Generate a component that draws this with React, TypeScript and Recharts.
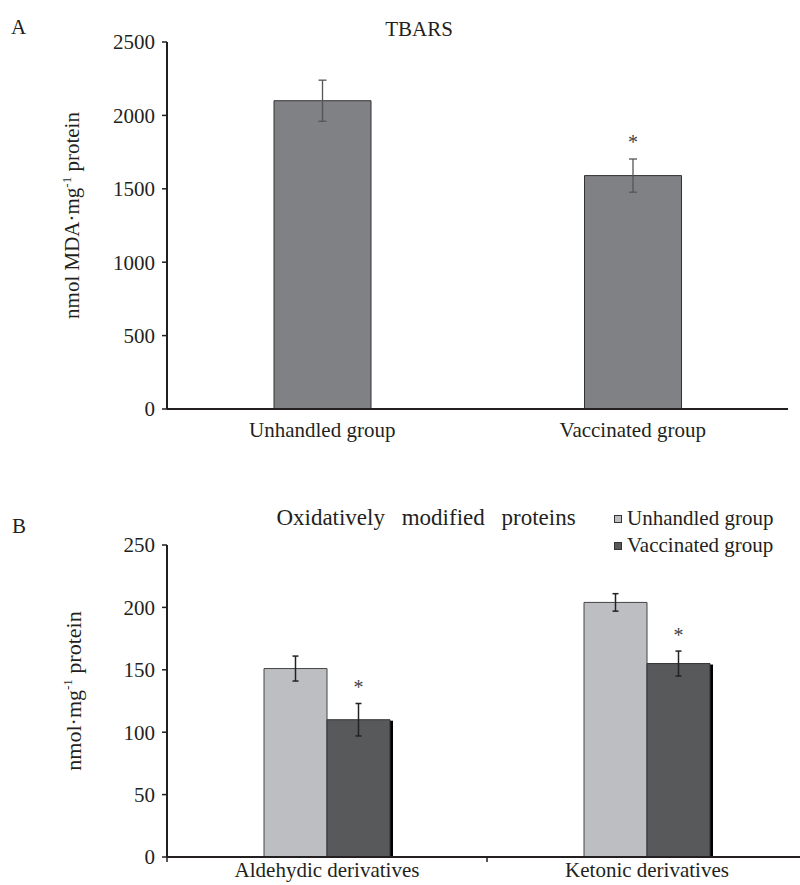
import React from 'react';
import {
  BarChart,
  Bar,
  XAxis,
  YAxis,
  ErrorBar,
  LabelList,
  Legend,
  Rectangle,
} from 'recharts';

// Panel A - TBARS
const tbarsGroups = ['Unhandled group', 'Vaccinated group'];
const tbarsValues = [2100, 1590];
const tbarsErrors = [140, 113];
const tbarsStars = [false, true];
const tbarsTicks = [0, 500, 1000, 1500, 2000, 2500];

// Panel B - oxidatively modified proteins
const derivCategories = ['Aldehydic derivatives', 'Ketonic derivatives'];
const unhandledValues = [151, 204];
const unhandledErrors = [10, 7];
const vaccinatedValues = [110, 155];
const vaccinatedErrors = [13, 10];
const derivTicks = [0, 50, 100, 150, 200, 250];

const serif = "'Liberation Serif', 'Times New Roman', serif";
const ink = '#231f20';

const tbarsData = tbarsGroups.map((group, i) => ({
  group,
  value: tbarsValues[i],
  err: tbarsErrors[i],
}));

const derivData = derivCategories.map((cat, i) => ({
  cat,
  unhandled: unhandledValues[i],
  unhandledErr: unhandledErrors[i],
  vaccinated: vaccinatedValues[i],
  vaccinatedErr: vaccinatedErrors[i],
}));

// rotated y title with a small superscript -1
const yTitle = (before: string, cx: number, size: number) => (props: any) => {
  const vb = props.viewBox || {};
  const cy = vb.y + vb.height / 2 - 10;
  return (
    <text
      x={cx}
      y={cy}
      transform={`rotate(-90, ${cx}, ${cy})`}
      textAnchor="middle"
      dominantBaseline="central"
      fontFamily={serif}
      fontSize={size}
      fill={ink}
    >
      {before}
      <tspan dy={-6} fontSize={13}>-1</tspan>
      <tspan dy={6}> protein</tspan>
    </text>
  );
};

// asterisk above the error bar, placed from the bar's own geometry
const starAbove = (errors: number[], show: boolean[], lift: number) => (props: any) => {
  const { x, y, width, height, value, index } = props;
  if (!show[index] || !value) return null;
  const errPx = (height * errors[index]) / value;
  return (
    <text
      x={x + width / 2}
      y={y - errPx - lift}
      textAnchor="middle"
      fontFamily={serif}
      fontSize={20}
      fill="#444"
    >
      *
    </text>
  );
};

// dark bar with the little black shadow on its right edge
const ShadowBar = (props: any) => {
  const { x, y, width, height } = props;
  return (
    <g>
      <rect x={x + width} y={y + 1} width={3} height={height - 1} fill="#000" />
      <Rectangle {...props} />
    </g>
  );
};

// category label plus the small tick marks on the category boundaries
const BoundaryTick = (props: any) => {
  const { x, y, payload, index, visibleTicksCount } = props;
  const half = payload.offset || 0;
  const axisY = y - 5;
  const isLast = index === (visibleTicksCount || 2) - 1;
  return (
    <g>
      <line x1={x - half} x2={x - half} y1={axisY} y2={axisY + 5} stroke={ink} strokeWidth={1.5} />
      {isLast && (
        <line x1={x + half} x2={x + half} y1={axisY} y2={axisY + 5} stroke={ink} strokeWidth={1.5} />
      )}
      <text x={x} y={y} dy="0.71em" textAnchor="middle" fontFamily={serif} fontSize={21} fill={ink}>
        {payload.value}
      </text>
    </g>
  );
};

const LegendBox = ({ payload }: any) => (
  <div style={{ fontFamily: serif, fontSize: 21, color: ink, lineHeight: '27px' }}>
    {(payload || []).map((p: any) => (
      <div key={p.value} style={{ display: 'flex', alignItems: 'center', whiteSpace: 'nowrap' }}>
        <span
          style={{
            display: 'inline-block',
            width: 6,
            height: 6,
            background: p.color,
            border: '1px solid #333',
            marginRight: 5,
          }}
        />
        {p.value}
      </div>
    ))}
  </div>
);

const textStyle: React.CSSProperties = {
  position: 'absolute',
  fontFamily: serif,
  color: ink,
  lineHeight: 1,
  whiteSpace: 'nowrap',
};

export default function App() {
  const tickFont = { fontSize: 21, fill: ink, fontFamily: serif };

  return (
    <div
      style={{
        position: 'absolute',
        left: 0,
        top: 0,
        width: 800,
        height: 885,
        overflow: 'hidden',
        background: '#fff',
      }}
    >
      <div style={{ ...textStyle, left: 11, top: 17, fontSize: 21 }}>A</div>
      <div style={{ ...textStyle, left: 419, top: 19, fontSize: 21, transform: 'translateX(-50%)' }}>
        TBARS
      </div>

      <div style={{ position: 'absolute', left: 0, top: 0 }}>
        <BarChart
          width={800}
          height={445}
          data={tbarsData}
          margin={{ top: 42, right: 12, left: 0, bottom: 0 }}
        >
          <XAxis
            dataKey="group"
            height={36}
            axisLine={{ stroke: ink, strokeWidth: 2 }}
            tickLine={false}
            tickSize={0}
            tickMargin={13}
            tick={tickFont}
          />
          <YAxis
            width={167}
            domain={[0, 2500]}
            ticks={tbarsTicks}
            axisLine={{ stroke: ink, strokeWidth: 2 }}
            tickLine={{ stroke: ink, strokeWidth: 1.5 }}
            tickSize={5}
            tickMargin={7}
            tick={tickFont}
            label={yTitle('nmol MDA·mg', 72, 21)}
          />
          <Bar
            dataKey="value"
            barSize={97}
            fill="#808184"
            stroke="#333"
            strokeWidth={1}
            isAnimationActive={false}
          >
            <ErrorBar dataKey="err" width={4} stroke="#555" strokeWidth={1.3} />
            <LabelList dataKey="value" content={starAbove(tbarsErrors, tbarsStars, 10)} />
          </Bar>
        </BarChart>
      </div>

      <div style={{ ...textStyle, left: 12, top: 516, fontSize: 21 }}>B</div>
      <div
        style={{
          ...textStyle,
          left: 426,
          top: 506,
          fontSize: 23,
          wordSpacing: 11,
          transform: 'translateX(-50%)',
        }}
      >
        Oxidatively modified proteins
      </div>

      <div style={{ position: 'absolute', left: 0, top: 490 }}>
        <BarChart
          width={812}
          height={395}
          data={derivData}
          margin={{ top: 55, right: 5, left: 0, bottom: 0 }}
          barGap={0}
        >
          <XAxis
            dataKey="cat"
            height={28}
            axisLine={{ stroke: ink, strokeWidth: 2 }}
            tickLine={false}
            tickSize={0}
            tickMargin={5}
            tick={<BoundaryTick />}
          />
          <YAxis
            width={167}
            domain={[0, 250]}
            ticks={derivTicks}
            axisLine={{ stroke: ink, strokeWidth: 2 }}
            tickLine={{ stroke: ink, strokeWidth: 1.5 }}
            tickSize={5}
            tickMargin={7}
            tick={tickFont}
            label={yTitle('nmol·mg', 73, 22)}
          />
          <Legend
            layout="vertical"
            align="center"
            verticalAlign="middle"
            content={LegendBox}
            wrapperStyle={{ left: 614, top: 15, width: 'auto' }}
          />
          <Bar
            dataKey="unhandled"
            name="Unhandled group"
            barSize={63}
            fill="#bdbec2"
            stroke="#444"
            strokeWidth={1}
            isAnimationActive={false}
          >
            <ErrorBar dataKey="unhandledErr" width={3} stroke="#222" strokeWidth={1.5} />
          </Bar>
          <Bar
            dataKey="vaccinated"
            name="Vaccinated group"
            barSize={63}
            fill="#58595b"
            stroke="#333"
            strokeWidth={1}
            shape={ShadowBar}
            isAnimationActive={false}
          >
            <ErrorBar dataKey="vaccinatedErr" width={3} stroke="#222" strokeWidth={1.5} />
            <LabelList
              dataKey="vaccinated"
              content={starAbove(vaccinatedErrors, [true, true], 9)}
            />
          </Bar>
        </BarChart>
      </div>
    </div>
  );
}
